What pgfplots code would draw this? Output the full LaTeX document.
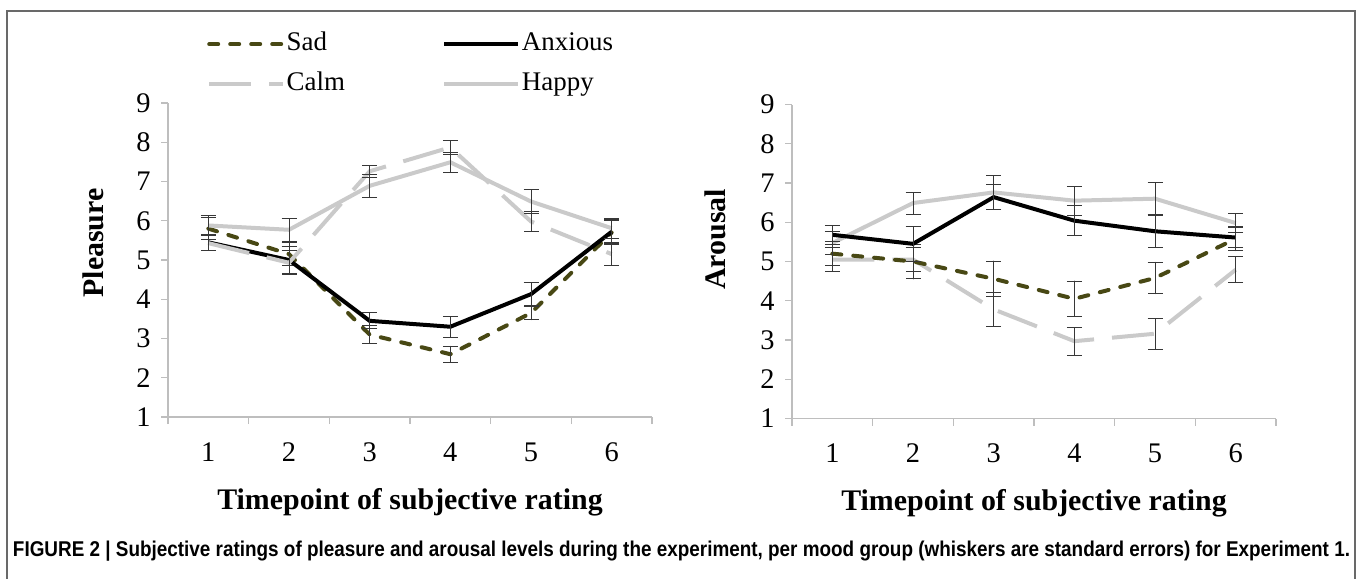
\documentclass[border=0pt]{standalone}
\usepackage{pgfplots}
\usepackage{pgfplotstable}
\pgfplotsset{compat=1.18}
\usepackage{fontspec}
\setmainfont{Liberation Serif}
\newfontfamily\capfont{Liberation Sans}
\definecolor{sadcol}{RGB}{72,72,20}
\definecolor{lgray}{RGB}{202,202,202}
\definecolor{axgray}{RGB}{190,190,190}
\definecolor{framegray}{RGB}{105,105,105}
\definecolor{errcol}{RGB}{55,55,55}

% Pleasure
\pgfplotstableread{
x y e
1 5.80 0.28
2 5.15 0.30
3 3.10 0.22
4 2.60 0.20
5 3.65 0.17
6 5.70 0.30
}\pSad
\pgfplotstableread{
x y e
1 5.45 0.20
2 5.00 0.35
3 3.45 0.20
4 3.30 0.27
5 4.13 0.30
6 5.72 0.30
}\pAnx
\pgfplotstableread{
x y e
1 5.43 0.20
2 4.93 0.30
3 7.26 0.15
4 7.87 0.18
5 5.98 0.25
6 5.15 0.30
}\pCalm
\pgfplotstableread{
x y e
1 5.88 0.25
2 5.77 0.30
3 6.89 0.30
4 7.49 0.25
5 6.49 0.30
6 5.81 0.25
}\pHap
% Arousal
\pgfplotstableread{
x y e
1 5.20 0.30
2 5.00 0.44
3 4.56 0.45
4 4.05 0.45
5 4.58 0.40
6 5.58 0.30
}\aSad
\pgfplotstableread{
x y e
1 5.68 0.25
2 5.45 0.45
3 6.64 0.32
4 6.04 0.38
5 5.77 0.42
6 5.61 0.25
}\aAnx
\pgfplotstableread{
x y e
1 5.05 0.30
2 5.05 0.30
3 3.78 0.43
4 2.97 0.36
5 3.16 0.40
6 4.79 0.33
}\aCalm
\pgfplotstableread{
x y e
1 5.47 0.30
2 6.49 0.28
3 6.76 0.43
4 6.55 0.37
5 6.60 0.42
6 5.98 0.25
}\aHap

\pgfplotsset{
  myax/.style={
    scale only axis, width=484bp, height=314bp,
    xmin=0.5, xmax=6.5, ymin=1, ymax=9,
    axis lines*=left,
    axis line style={axgray, line width=1.2bp},
    xtick={0.5,1.5,...,6.5}, xticklabels={},
    extra x ticks={1,2,3,4,5,6}, extra x tick labels={1,2,3,4,5,6},
    extra x tick style={major tick length=0pt, xticklabel style={yshift=-22bp}},
    ytick={1,2,...,9},
    tick align=outside, major tick length=7bp,
    tick style={axgray, line width=1.2bp},
    ticklabel style={font=\fontsize{28.5}{33}\selectfont},
    yticklabel style={xshift=-7bp},
    /pgf/number format/assume math mode=true,
    label style={font=\fontsize{30}{36}\selectfont\bfseries},
    xlabel={Timepoint of subjective rating},
    xlabel style={at={(axis description cs:0.5,-0.27)}, anchor=center},
    error bars/y dir=both, error bars/y explicit,
    error bars/error bar style={solid, errcol, line width=1bp},
    error bars/error mark options={solid, rotate=90, errcol, mark size=7.5bp, line width=1bp},
  },
  sadst/.style={sadcol, line width=4bp, line cap=round, dash pattern=on 9bp off 12bp},
  anxst/.style={black, line width=4bp},
  calmst/.style={lgray, line width=4bp, dash pattern=on 42bp off 18bp},
  hapst/.style={lgray, line width=4bp},
}

\begin{document}
\begin{tikzpicture}[x=1bp,y=1bp]
\useasboundingbox (0,0) rectangle (1358,-579);
\draw[framegray, line width=2bp] (7,-580) -- (7,-11) -- (1355,-11) -- (1355,-580);

\begin{axis}[myax, at={(168bp,-417bp)}, anchor=south west,
  ylabel={Pleasure},
  ylabel style={at={(axis description cs:-0.155,0.554)}, anchor=center, rotate=0},
  legend columns=2,
  legend cell align=left,
  legend image code/.code={\draw[#1] (0bp,0bp) -- (74bp,0bp);},
  legend style={draw=none, fill=none, inner sep=0pt,
    at={(axis description cs:0.0806,1.2325)}, anchor=north west,
    font=\fontsize{27}{32}\selectfont,
    nodes={inner sep=1.5bp, text height=19bp, text depth=6bp},
    row sep=12bp,
    /tikz/every even column/.append style={column sep=96bp}},
]
\addplot[sadst] table[x=x,y=y,y error=e] {\pSad};
\addlegendentry{Sad}
\addplot[anxst] table[x=x,y=y,y error=e] {\pAnx};
\addlegendentry{Anxious}
\addplot[calmst] table[x=x,y=y,y error=e] {\pCalm};
\addlegendentry{Calm}
\addplot[hapst] table[x=x,y=y,y error=e] {\pHap};
\addlegendentry{Happy}
\end{axis}

\begin{axis}[myax, at={(792bp,-418.5bp)}, anchor=south west,
  ylabel={Arousal},
  ylabel style={at={(axis description cs:-0.159,0.571)}, anchor=center, rotate=0},
]
\addplot[hapst] table[x=x,y=y,y error=e] {\aHap};
\addplot[calmst] table[x=x,y=y,y error=e] {\aCalm};
\addplot[sadst] table[x=x,y=y,y error=e] {\aSad};
\addplot[anxst] table[x=x,y=y,y error=e] {\aAnx};
\end{axis}

\node[anchor=center] at (681.5,-551) {\resizebox{1337bp}{15.5bp}{\capfont\bfseries\fontsize{22}{26}\selectfont FIGURE 2 | Subjective ratings of pleasure and arousal levels during the experiment, per mood group (whiskers are standard errors) for Experiment 1.}};
\end{tikzpicture}
\end{document}
